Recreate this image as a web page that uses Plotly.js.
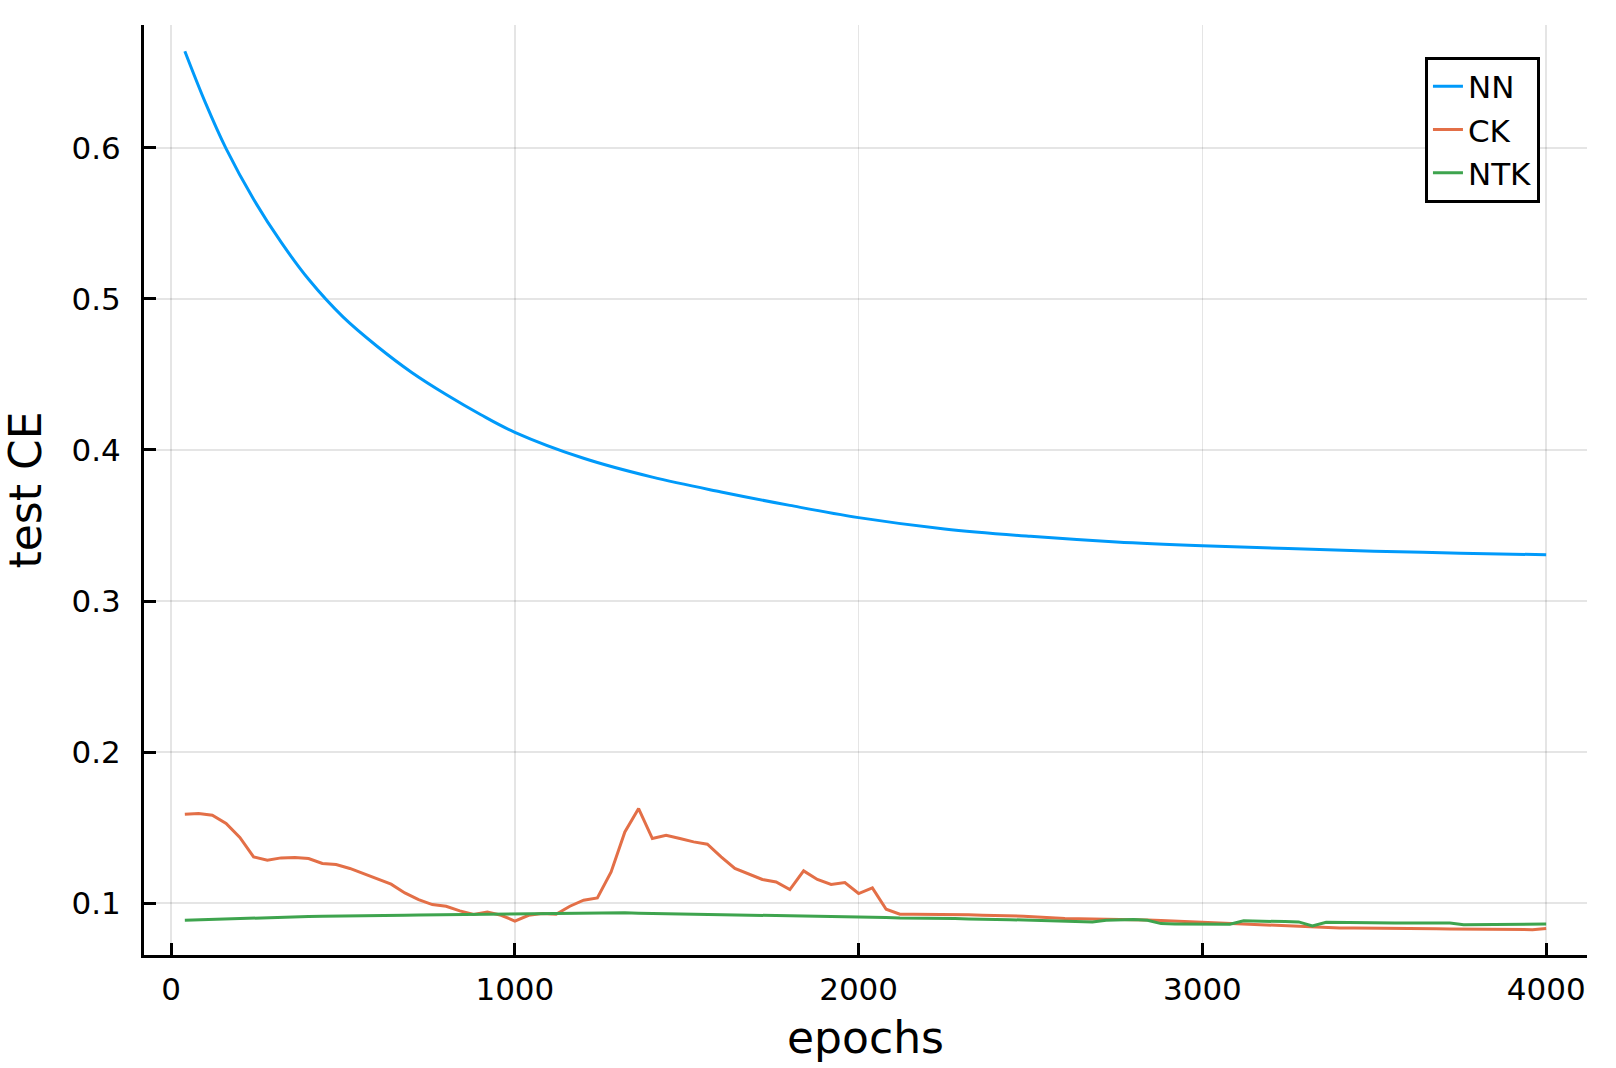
<!DOCTYPE html>
<html>
<head>
<meta charset="utf-8">
<script src="https://cdn.plot.ly/plotly-3.0.1.min.js"></script>
<style>
  html, body { margin: 0; padding: 0; background: #fff; }
  #plot { width: 1616px; height: 1068px; }
</style>
</head>
<body>
<div id="plot"></div>
<script>
// NN test CE
const nnEpochs = [40, 100, 160, 240, 320, 400, 500, 600, 700, 800, 900, 1000,
  1200, 1400, 1600, 1800, 2000, 2250, 2500, 2750, 3000, 3250, 3500, 3750, 4000];
const nnCE = [0.6640, 0.6298, 0.5995, 0.5660, 0.5376, 0.5130, 0.4881, 0.4685, 0.4513,
  0.4367, 0.4235, 0.4117, 0.3945, 0.3820, 0.3722, 0.3633, 0.3552, 0.3477, 0.3428,
  0.3391, 0.3366, 0.3347, 0.3330, 0.3317, 0.3306];

// CK and NTK are logged every 40 epochs
const epochs = [];
for (let e = 40; e <= 4000; e += 40) epochs.push(e);

const ckCE = [
  0.1588, 0.1593, 0.1582, 0.1527, 0.1434, 0.1306, 0.1284, 0.1299, 0.1302, 0.1295,
  0.1262, 0.1255, 0.1229, 0.1195, 0.1162, 0.1125, 0.1067, 0.1023, 0.0990, 0.0979,
  0.0948, 0.0924, 0.0941, 0.0919, 0.0881, 0.0919, 0.0930, 0.0926, 0.0979, 0.1019,
  0.1034, 0.1206, 0.1471, 0.1626, 0.1427, 0.1449, 0.1427, 0.1405, 0.1390, 0.1306,
  0.1229, 0.1195, 0.1156, 0.1140, 0.1089, 0.1213, 0.1156, 0.1123, 0.1136, 0.1063,
  0.1100, 0.0959, 0.0926, 0.0926, 0.0926, 0.0926, 0.0924, 0.0922, 0.0920, 0.0919,
  0.0916, 0.0913, 0.0908, 0.0902, 0.0897, 0.0896, 0.0895, 0.0894, 0.0892, 0.0891,
  0.0888, 0.0884, 0.0880, 0.0878, 0.0875, 0.0868, 0.0864, 0.0860, 0.0856, 0.0852,
  0.0849, 0.0846, 0.0843, 0.0839, 0.0835, 0.0834, 0.0834, 0.0833, 0.0833, 0.0832,
  0.0831, 0.0829, 0.0828, 0.0827, 0.0826, 0.0825, 0.0824, 0.0823, 0.0824, 0.0831
];

const ntkCE = [
  0.0886, 0.0889, 0.0892, 0.0895, 0.0898, 0.0904, 0.0906, 0.0908, 0.0910, 0.0911,
  0.0913, 0.0915, 0.0916, 0.0917, 0.0918, 0.0919, 0.0920, 0.0921, 0.0922, 0.0924,
  0.0925, 0.0926, 0.0927, 0.0928, 0.0930, 0.0931, 0.0932, 0.0933, 0.0934, 0.0934,
  0.0935, 0.0936, 0.0935, 0.0933, 0.0931, 0.0930, 0.0929, 0.0928, 0.0926, 0.0923,
  0.0921, 0.0919, 0.0918, 0.0917, 0.0915, 0.0913, 0.0912, 0.0911, 0.0910, 0.0908,
  0.0908, 0.0905, 0.0901, 0.0901, 0.0901, 0.0901, 0.0898, 0.0895, 0.0891, 0.0891,
  0.0890, 0.0888, 0.0886, 0.0884, 0.0881, 0.0878, 0.0875, 0.0886, 0.0889, 0.0891,
  0.0886, 0.0864, 0.0862, 0.0861, 0.0860, 0.0857, 0.0860, 0.0882, 0.0882, 0.0879,
  0.0877, 0.0875, 0.0848, 0.0873, 0.0871, 0.0869, 0.0868, 0.0868, 0.0868, 0.0868,
  0.0868, 0.0868, 0.0868, 0.0857, 0.0857, 0.0857, 0.0857, 0.0857, 0.0859, 0.0861
];

const xTicks = [0, 1000, 2000, 3000, 4000];
const yTicks = [0.1, 0.2, 0.3, 0.4, 0.5, 0.6];

const font = "DejaVu Sans, sans-serif";

const traces = [
  {
    x: nnEpochs, y: nnCE, name: "NN",
    type: "scatter", mode: "lines",
    line: { color: "#009AFA", width: 3, shape: "spline", smoothing: 1 },
    hoverinfo: "skip",
  },
  {
    x: epochs, y: ckCE, name: "CK",
    type: "scatter", mode: "lines",
    line: { color: "#E36F47", width: 3 },
    hoverinfo: "skip",
  },
  {
    x: epochs, y: ntkCE, name: "NTK",
    type: "scatter", mode: "lines",
    line: { color: "#3EA44E", width: 3 },
    hoverinfo: "skip",
  },
];

const axisCommon = {
  showline: true,
  linecolor: "black",
  linewidth: 3,
  mirror: false,
  ticks: "inside",
  ticklen: 12,
  tickwidth: 3,
  tickcolor: "black",
  showgrid: true,
  gridcolor: "rgba(0,0,0,0.1)",
  gridwidth: 1.5,
  zeroline: false,
  tickfont: { family: font, size: 31, color: "black" },
  automargin: false,
};

const layout = {
  width: 1616,
  height: 1068,
  margin: { l: 144, r: 29, t: 25, b: 113 },
  paper_bgcolor: "white",
  plot_bgcolor: "white",
  font: { family: font, color: "black" },
  showlegend: true,
  xaxis: Object.assign({}, axisCommon, {
    range: [-78.8, 4118.8],
    tickvals: xTicks,
    ticktext: xTicks.map(String),
    ticklabelstandoff: 5,
    title: { text: "epochs", font: { family: font, size: 44 }, standoff: 16 },
  }),
  yaxis: Object.assign({}, axisCommon, {
    range: [0.0656, 0.6814],
    tickvals: yTicks,
    ticktext: yTicks.map((v) => v.toFixed(1)),
    ticklabelstandoff: 14,
    title: { text: "test CE", font: { family: font, size: 44 }, standoff: 18 },
  }),
  legend: {
    x: 0.9674,
    xanchor: "right",
    y: 0.966,
    yanchor: "top",
    bgcolor: "white",
    bordercolor: "black",
    borderwidth: 3,
    font: { family: font, size: 31, color: "black" },
    tracegroupgap: 0,
  },
};

Plotly.newPlot("plot", traces, layout, { staticPlot: true });
</script>
</body>
</html>
